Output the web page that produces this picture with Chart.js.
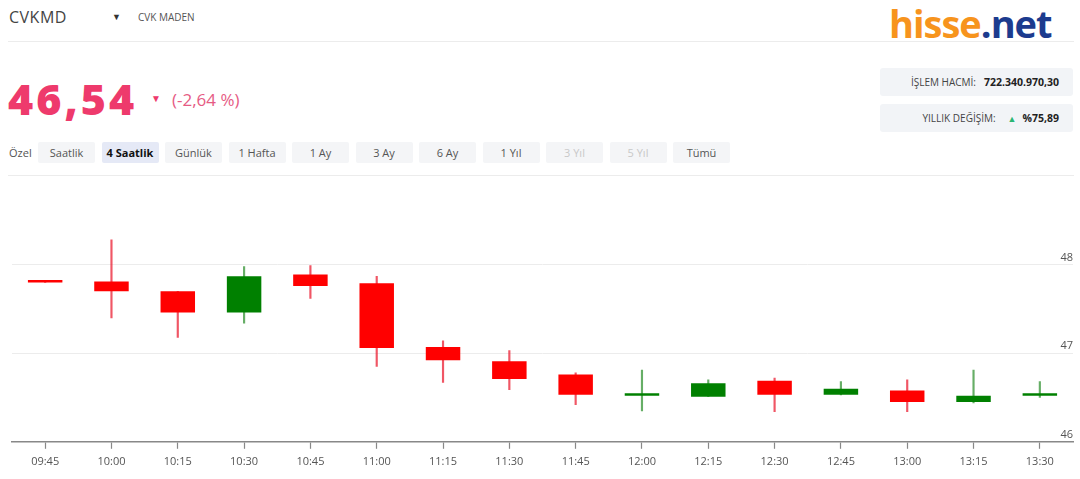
<!DOCTYPE html>
<html lang="tr">
<head>
  <meta charset="UTF-8" />
  <title>CVKMD - 4 Saatlik</title>
  <script src="https://cdn.jsdelivr.net/npm/chart.js"></script>
  <style>
    body {
      margin: 0;
      width: 1080px;
      height: 479px;
      background: #fff;
      font-family: 'Open Sans', sans-serif;
      color: #444;
      position: relative;
      overflow: hidden;
    }
    .abs { position: absolute; }
    #sym { left: 9px; top: 6px; font-size: 16px; color: #444; letter-spacing: 0.5px; }
    #tri { left: 112px; top: 10px; font-size: 9px; color: #333; }
    #name { left: 138px; top: 10px; font-size: 10px; color: #555; }
    #logo { left: 889px; top: -3px; font-size: 38px; font-weight: 700; letter-spacing: -1px; }
    #logo .a { color: #f7941d; }
    #logo .b { color: #1c3b8e; }
    .hline { position: absolute; left: 8px; width: 1066px; height: 1px; background: #ececec; }
    #price { left: 8px; top: 69px; font-size: 43px; font-weight: 800; color: #ee3a6c; letter-spacing: 3px; }
    #down { left: 151px; top: 91px; font-size: 10px; color: #ee3a6c; }
    #chg { left: 172px; top: 88px; font-size: 17px; color: #e65b84; }
    .box {
      position: absolute; left: 880px; width: 193px; height: 28px;
      background: #f2f4f7; border-radius: 3px;
      font-size: 10px; color: #444;
      display: flex; align-items: center; justify-content: flex-end;
      box-sizing: border-box; padding-right: 14px;
    }
    .box b { color: #222; margin-left: 8px; font-size: 10.5px; }
    .up { color: #2bb673; font-size: 9px; margin-left: 12px; }
    #tabs { left: 9px; top: 142px; display: flex; align-items: center; font-size: 11px; color: #555; }
    #tabs .lbl { width: 29px; }
    #tabs .btn {
      width: 57px; height: 21px; margin-right: 6.5px;
      background: #f4f5f7; border-radius: 2px;
      display: flex; align-items: center; justify-content: center;
    }
    #tabs .sel { background: #e5e9f6; color: #111; font-weight: 700; }
    #tabs .off { color: #c8c8c8; }
    #wrap { left: 0; top: 176px; width: 1080px; height: 303px; }
  </style>
</head>
<body>

<div class="abs" id="sym">CVKMD</div>
<div class="abs" id="tri">&#9660;</div>
<div class="abs" id="name">CVK MADEN</div>
<div class="abs" id="logo"><span class="a">hisse</span><span class="b">.net</span></div>
<div class="hline" style="top:41px"></div>

<div class="abs" id="price">46,54</div>
<div class="abs" id="down">&#9660;</div>
<div class="abs" id="chg">(-2,64 %)</div>

<div class="box" style="top:68px">İŞLEM HACMİ:<b>722.340.970,30</b></div>
<div class="box" style="top:104px">YILLIK DEĞİŞİM:<span class="up">&#9650;</span><b style="margin-left:6px">%75,89</b></div>

<div class="abs" id="tabs">
  <div class="lbl">Özel</div>
  <div class="btn">Saatlik</div>
  <div class="btn sel">4 Saatlik</div>
  <div class="btn">Günlük</div>
  <div class="btn">1 Hafta</div>
  <div class="btn">1 Ay</div>
  <div class="btn">3 Ay</div>
  <div class="btn">6 Ay</div>
  <div class="btn">1 Yıl</div>
  <div class="btn off">3 Yıl</div>
  <div class="btn off">5 Yıl</div>
  <div class="btn">Tümü</div>
</div>
<div class="hline" style="top:175px"></div>

<div class="abs" id="wrap"><canvas id="candles"></canvas></div>

<script>
  // 15 minute candles
  const times = ['09:45', '10:00', '10:15', '10:30', '10:45', '11:00', '11:15', '11:30',
                 '11:45', '12:00', '12:15', '12:30', '12:45', '13:00', '13:15', '13:30'];
  const open  = [47.81, 47.81, 47.70, 47.46, 47.89, 47.79, 47.07, 46.91, 46.76, 46.52, 46.51, 46.69, 46.53, 46.58, 46.45, 46.52];
  const close = [47.80, 47.70, 47.46, 47.87, 47.76, 47.06, 46.92, 46.71, 46.53, 46.53, 46.66, 46.53, 46.60, 46.45, 46.52, 46.54];
  const high  = [47.81, 48.28, 47.70, 47.98, 47.99, 47.87, 47.14, 47.03, 46.78, 46.81, 46.70, 46.72, 46.68, 46.70, 46.81, 46.68];
  const low   = [47.80, 47.40, 47.18, 47.34, 47.62, 46.85, 46.67, 46.59, 46.42, 46.35, 46.51, 46.34, 46.53, 46.34, 46.44, 46.50];
  const yTicks = [46, 47, 48];

  const upCol = '#008000', downCol = '#ff0000';
  const upWick = 'rgba(0,120,0,0.6)', downWick = 'rgba(235,30,50,0.75)';

  const isUp = open.map((o, i) => close[i] > o);

  new Chart(document.getElementById('candles'), {
    type: 'bar',
    data: {
      labels: times,
      datasets: [
        {
          label: 'body',
          data: open.map((o, i) => [o, close[i]]),
          backgroundColor: isUp.map(u => u ? upCol : downCol),
          borderWidth: 0,
          grouped: false,
          barPercentage: 0.52,
          categoryPercentage: 1,
          minBarLength: 2.5
        },
        {
          label: 'wick',
          data: low.map((l, i) => [l, high[i]]),
          backgroundColor: isUp.map(u => u ? upWick : downWick),
          borderWidth: 0,
          grouped: false,
          barThickness: 1.5
        }
      ]
    },
    options: {
      responsive: true,
      maintainAspectRatio: false,
      animation: false,
      layout: { padding: { left: 12, right: 7, top: 9, bottom: 5 } },
      plugins: { legend: { display: false }, tooltip: { enabled: false } },
      scales: {
        x: {
          offset: true,
          grid: {
            display: true, offset: false, drawOnChartArea: false, drawTicks: true,
            tickLength: 7, tickColor: '#888', tickWidth: 1.2, color: '#888'
          },
          border: { color: '#888', width: 1.5 },
          ticks: { color: '#555', font: { family: 'Open Sans', size: 11 }, padding: 6, maxRotation: 0, autoSkip: false }
        },
        y: {
          position: 'right',
          min: 46,
          max: 48.9,
          afterBuildTicks: s => { s.ticks = yTicks.map(v => ({ value: v })); },
          grid: { color: '#ececec', drawTicks: false },
          border: { display: false },
          ticks: {
            mirror: true,
            padding: 0,
            labelOffset: -7,
            color: '#555',
            font: { family: 'Open Sans', size: 11 }
          }
        }
      }
    }
  });
</script>

</body>
</html>
